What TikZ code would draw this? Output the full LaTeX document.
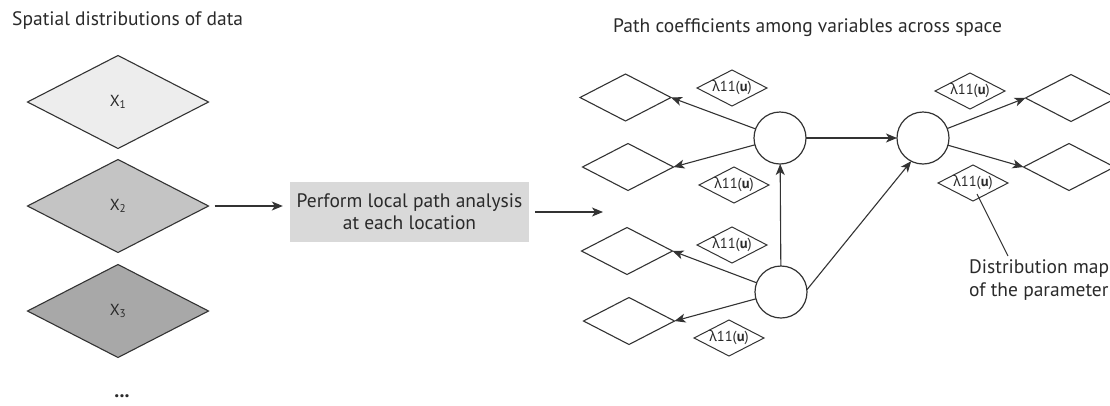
\documentclass[tikz,border=0pt]{standalone}
\usepackage{fontspec}
\setmainfont{PT Sans}
\newfontfamily\grk{Noto Sans}
\usetikzlibrary{shapes.geometric,arrows.meta}

\definecolor{linec}{HTML}{333333}
\definecolor{layerA}{HTML}{EDEDED}
\definecolor{layerB}{HTML}{C4C4C4}
\definecolor{layerC}{HTML}{A8A8A8}
\definecolor{boxfill}{HTML}{D9D9D9}
\definecolor{textc}{HTML}{2A2A2A}

\newcommand{\coefname}{{\grk λ}11(\textbf{u})}

\begin{document}
\begin{tikzpicture}[x=1pt,y=-1pt,
  every node/.style={text=textc},
  layer/.style={diamond, draw=linec, line width=1.1pt, minimum width=181pt,
    minimum height=93pt, inner sep=0pt, outer sep=0pt,
    font=\fontsize{16}{18}\selectfont},
  map/.style={diamond, draw=linec, line width=1.1pt, minimum width=91pt,
    minimum height=47pt, inner sep=0pt, outer sep=0pt},
  coef/.style={diamond, draw=linec, line width=1pt, minimum width=70pt,
    minimum height=36pt, inner sep=0pt, outer sep=0pt,
    label={[font=\fontsize{14.5}{16}\selectfont, text=textc]center:\coefname}},
  var/.style={circle, draw=linec, line width=1.2pt, minimum size=52pt,
    inner sep=0pt, outer sep=0pt},
  link/.style={draw=linec, line width=1.1pt,
    -{Stealth[length=11pt,width=9pt,inset=3pt]}},
  title/.style={font=\fontsize{19.5}{22}\selectfont, inner sep=0pt, anchor=base west},
]
\useasboundingbox (0,0) rectangle (1110,405);

% headings
\node[title] (t1) at (12,25) {Spatial distributions of data};
\node[title] (t2) at (613,32) {Path coefficients among variables across space};

% stack of data layers
\node[layer, fill=layerA] (x1) at (118,102) {\raisebox{-4pt}{X\textsubscript{1}}};
\node[layer, fill=layerB] (x2) at (118,206) {\raisebox{-4pt}{X\textsubscript{2}}};
\node[layer, fill=layerC] (x3) at (118,311) {\raisebox{-4pt}{X\textsubscript{3}}};
\node[font=\fontsize{20}{22}\selectfont\bfseries, inner sep=0pt] (more) at (122,396) {...};

% processing step
\node[fill=boxfill, minimum width=239pt, minimum height=60pt, inner sep=0pt,
  align=center, font=\fontsize{19.5}{22}\selectfont] (box) at (409.5,212)
  {Perform local path analysis\\ at each location};
\coordinate (into) at (603,212);
\draw[link] ([xshift=6pt]x2.east) -- ([xshift=-7pt]box.west |- x2.east);
\draw[link] ([xshift=6pt]box.east) -- (into);

% variables
\node[var] (c1) at (780,138) {};
\node[var] (c2) at (781,292) {};
\node[var] (c3) at (923,138) {};

% distribution maps
\node[map] (mA) at (625.5,97.5) {};
\node[map] (mB) at (628,167) {};
\node[map] (mC) at (627,251) {};
\node[map] (mD) at (629,321) {};
\node[map] (mE) at (1071,98) {};
\node[map] (mF) at (1069,167) {};

% coefficient maps
\node[coef] (L1) at (732,88) {};
\node[coef] (L2) at (734,185) {};
\node[coef] (L3) at (732,245) {};
\node[coef] (L4) at (729,338) {};
\node[coef] (L5) at (970,91) {};
\node[coef] (L6) at (973,183) {};

% paths
\draw[link] (c1) -- (mA.east);
\draw[link] (c1) -- (mB.east);
\draw[link] (c2) -- (mC.east);
\draw[link] (c2) -- (mD.east);
\draw[link] (c2) -- (c1);
\draw[link] (c1) -- (c3);
\draw[link] (c2.5) -- (c3.243);
\draw[link] (c3) -- (mE.west);
\draw[link] (c3) -- (mF.west);

% callout
\node[anchor=north west, inner sep=0pt, align=left,
  font=\fontsize{19.5}{23}\selectfont] (dm) at (969,259)
  {Distribution map\\of the parameter};
\draw[draw=linec, line width=1pt] ([shift={(4,11)}]L6.center) -- ([shift={(39,-3)}]dm.north west);
\end{tikzpicture}
\end{document}
